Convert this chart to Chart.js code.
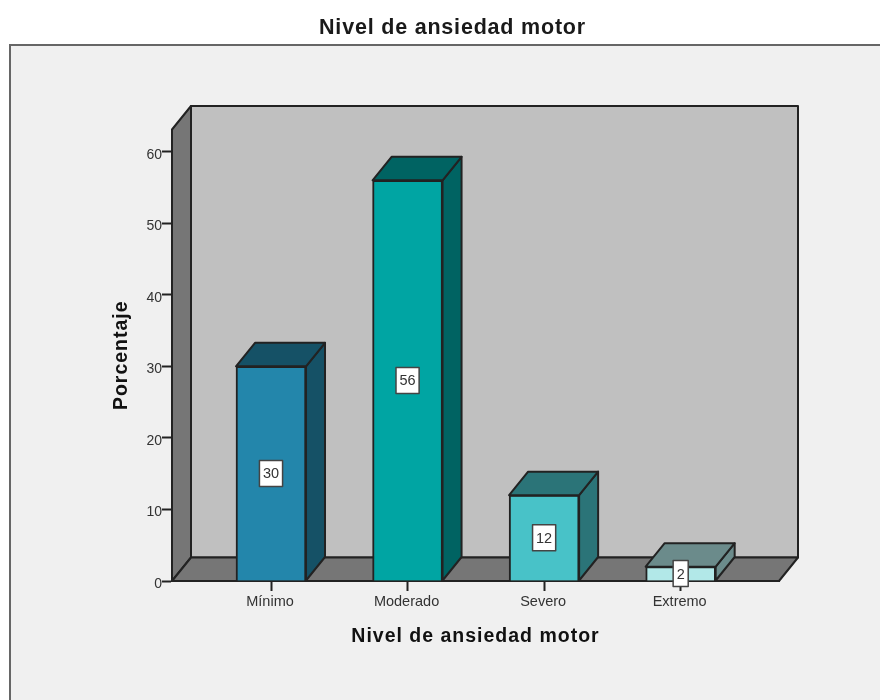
<!DOCTYPE html>
<html>
<head>
<meta charset="utf-8">
<title>Nivel de ansiedad motor</title>
<script src="https://cdn.jsdelivr.net/npm/chart.js@4/dist/chart.umd.js"></script>
<style>
  html, body { margin: 0; padding: 0; background: #fff; overflow: hidden; }
  #wrap { position: relative; width: 880px; height: 700px; }
</style>
</head>
<body>
<div id="wrap"><canvas id="grafico"></canvas></div>
<script>
// Datos
const categorias = ['Mínimo', 'Moderado', 'Severo', 'Extremo'];
const porcentajes = [30, 56, 12, 2];
const coloresFrente = ['#2386ab', '#00a5a3', '#48c2c8', '#b2e8e8'];
const coloresLado = ['#155166', '#006362', '#2b7478', '#6b8b8b'];
const tituloGrafico = 'Nivel de ansiedad motor';
const tituloEjeX = 'Nivel de ansiedad motor';
const tituloEjeY = 'Porcentaje';

// profundidad del efecto 3D
const DX = 19;
const DY = 23.5;
const LINEA = '#222';

function poligono(ctx, puntos, relleno) {
    ctx.beginPath();
    puntos.forEach((p, i) => i ? ctx.lineTo(p[0], p[1]) : ctx.moveTo(p[0], p[1]));
    ctx.closePath();
    ctx.fillStyle = relleno;
    ctx.fill();
    ctx.stroke();
}

// Fondo del panel con su marco
const panel = {
    id: 'panel',
    beforeDraw(chart) {
        const ctx = chart.ctx;
        ctx.save();
        ctx.fillStyle = '#f0f0f0';
        ctx.strokeStyle = '#666';
        ctx.lineWidth = 2;
        ctx.fillRect(10, 45, 880, 670);
        ctx.strokeRect(10, 45, 880, 670);
        ctx.restore();
    }
};

// Paredes y suelo, se dibujan antes de las barras
const caja3d = {
    id: 'caja3d',
    beforeDatasetsDraw(chart) {
        const { left, right, top, bottom } = chart.chartArea;
        const ctx = chart.ctx;
        ctx.save();
        ctx.strokeStyle = LINEA;
        ctx.lineWidth = 2;
        ctx.lineJoin = 'round';
        poligono(ctx, [[left + DX, top - DY], [right + DX, top - DY], [right + DX, bottom - DY], [left + DX, bottom - DY]], '#c0c0c0');
        poligono(ctx, [[left, top], [left + DX, top - DY], [left + DX, bottom - DY], [left, bottom]], '#767676');
        poligono(ctx, [[left, bottom], [left + DX, bottom - DY], [right + DX, bottom - DY], [right, bottom]], '#767676');
        ctx.restore();
    }
};

// Caras lateral y superior de cada barra, y etiqueta del valor
const barras3d = {
    id: 'barras3d',
    afterDatasetsDraw(chart) {
        const ctx = chart.ctx;
        const meta = chart.getDatasetMeta(0);
        ctx.save();
        ctx.strokeStyle = LINEA;
        ctx.lineWidth = 2;
        ctx.lineJoin = 'round';
        meta.data.forEach((bar, i) => {
            const l = bar.x - bar.width / 2, r = bar.x + bar.width / 2;
            poligono(ctx, [[r, bar.y], [r + DX, bar.y - DY], [r + DX, bar.base - DY], [r, bar.base]], coloresLado[i]);
            poligono(ctx, [[l, bar.y], [l + DX, bar.y - DY], [r + DX, bar.y - DY], [r, bar.y]], coloresLado[i]);
        });
        ctx.font = '14.5px "Liberation Sans", Arial, sans-serif';
        ctx.textAlign = 'center';
        ctx.textBaseline = 'middle';
        meta.data.forEach((bar, i) => {
            const txt = String(porcentajes[i]);
            const w = ctx.measureText(txt).width + 7;
            const yc = (bar.y + bar.base) / 2;
            ctx.fillStyle = '#fff';
            ctx.strokeStyle = '#444';
            ctx.lineWidth = 1.5;
            ctx.fillRect(bar.x - w / 2, yc - 13, w, 26);
            ctx.strokeRect(bar.x - w / 2, yc - 13, w, 26);
            ctx.fillStyle = '#333';
            ctx.fillText(txt, bar.x, yc + 1);
        });
        ctx.restore();
    }
};

// Ajustes que Chart.js no expone: centro del título y espaciado de los títulos
function conEspaciado(obj, metodo, espacio) {
    if (obj._conEspaciado) return;
    const original = obj[metodo];
    obj[metodo] = function () {
        this.ctx.save();
        this.ctx.letterSpacing = espacio;
        original.call(this);
        this.ctx.restore();
    };
    obj._conEspaciado = true;
}

const ajustes = {
    id: 'ajustes',
    afterLayout(chart) {
        chart.titleBlock.left = 25;
        chart.titleBlock.right = 880;
        conEspaciado(chart.titleBlock, 'draw', '0.8px');
        conEspaciado(chart.scales.x, 'drawTitle', '1px');
        conEspaciado(chart.scales.y, 'drawTitle', '1px');
    }
};

const fuente = '"Liberation Sans", Arial, sans-serif';

new Chart(document.getElementById('grafico'), {
    type: 'bar',
    data: {
        datasets: [{
            data: porcentajes.map((v, i) => ({ x: i, y: v })),
            backgroundColor: coloresFrente,
            borderColor: LINEA,
            borderWidth: 2,
            barThickness: 70
        }]
    },
    plugins: [panel, caja3d, barras3d, ajustes],
    options: {
        responsive: true,
        maintainAspectRatio: false,
        animation: false,
        events: [],
        layout: { padding: { left: 0, right: 101, top: 0, bottom: 0 } },
        plugins: {
            legend: { display: false },
            tooltip: { enabled: false },
            title: {
                display: true,
                text: tituloGrafico,
                color: '#1a1a1a',
                font: { family: fuente, size: 21.5, weight: 'bold', lineHeight: 1.2 },
                padding: { top: 15, bottom: 88.7 }
            }
        },
        scales: {
            x: {
                type: 'linear',
                offset: false,
                min: -0.725,
                max: 3.72,
                afterBuildTicks: s => { s.ticks = categorias.map((c, i) => ({ value: i })); },
                afterFit: s => { s.height = 119; },
                grid: { offset: false, drawOnChartArea: false, tickLength: 10, tickColor: LINEA, tickWidth: 2 },
                border: { color: LINEA, width: 2 },
                ticks: {
                    autoSkip: false,
                    maxRotation: 0,
                    padding: 2,
                    labelOffset: -1,
                    color: '#333',
                    font: { family: fuente, size: 14.5 },
                    callback: v => categorias[v]
                },
                title: {
                    display: true,
                    text: tituloEjeX,
                    color: '#111',
                    font: { family: fuente, size: 19.5, weight: 'bold' },
                    padding: { top: 0, bottom: 52 }
                }
            },
            y: {
                min: 0,
                max: 63.1,
                afterBuildTicks: s => { s.ticks = s.ticks.filter(t => t.value % 10 === 0); },
                afterFit: s => { s.width = 172; },
                grid: { drawOnChartArea: false, tickLength: 10, tickColor: LINEA, tickWidth: 2 },
                border: { color: LINEA, width: 2 },
                ticks: {
                    stepSize: 10,
                    padding: 0,
                    labelOffset: 3,
                    color: '#333',
                    font: { family: fuente, size: 14 }
                },
                title: {
                    display: true,
                    text: tituloEjeY,
                    color: '#111',
                    font: { family: fuente, size: 19.5, weight: 'bold' },
                    padding: { top: 110, bottom: 0 }
                }
            }
        }
    }
});
</script>
</body>
</html>
